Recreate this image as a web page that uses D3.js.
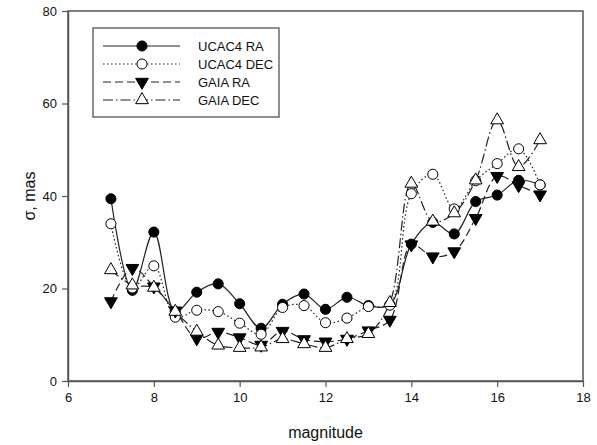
<!DOCTYPE html>
<html>
<head>
<meta charset="utf-8">
<script src="https://cdn.jsdelivr.net/npm/d3@7"></script>
<style>
  body { margin: 0; background: #fff; }
  svg text { font-family: "Liberation Sans", Arial, sans-serif; fill: #111; }
</style>
</head>
<body>
<svg id="chart" width="597" height="445"></svg>
<script>
const mags = [7, 7.5, 8, 8.5, 9, 9.5, 10, 10.5, 11, 11.5, 12, 12.5, 13, 13.5, 14, 14.5, 15, 15.5, 16, 16.5, 17];
const ucacRA = [39.4, 19.6, 32.2, 15.0, 19.2, 21.0, 16.7, 11.4, 16.6, 18.8, 15.5, 18.1, 16.3, 16.5, 29.6, 34.3, 31.8, 38.8, 40.2, 43.4, 42.4];
const ucacDEC = [34.0, 20.1, 24.9, 13.8, 15.3, 15.0, 12.5, 10.1, 15.9, 16.3, 12.6, 13.6, 16.1, 16.4, 40.5, 44.7, 37.2, 43.3, 47.0, 50.2, 42.4];
const gaiaRA = [17.2, 24.4, 20.4, 15.2, 9.2, 10.6, 9.4, 7.8, 10.8, 9.0, 8.5, 9.1, 10.9, 13.2, 29.5, 26.9, 28.0, 35.2, 44.3, 42.3, 40.3];
const gaiaDEC = [24.0, 20.7, 20.2, 15.0, 10.7, 7.7, 7.2, 7.3, 9.1, 8.0, 7.2, 9.1, 10.2, 16.9, 42.7, 34.5, 36.3, 43.4, 56.4, 46.3, 52.1];
const seriesNames = ["UCAC4 RA", "UCAC4 DEC", "GAIA RA", "GAIA DEC"];
const xTicks = [6, 8, 10, 12, 14, 16, 18];
const yTicks = [0, 20, 40, 60, 80];

const styles = [
    { vals: ucacRA, dash: null, sym: d3.symbolCircle, size: 80, fill: "#000" },
    { vals: ucacDEC, dash: "1.5,2.5", sym: d3.symbolCircle, size: 80, fill: "#fff" },
    { vals: gaiaRA, dash: "8,4", sym: "down", size: 70, fill: "#000" },
    { vals: gaiaDEC, dash: "10,3,1.5,3", sym: d3.symbolTriangle, size: 70, fill: "#fff" }
];

const svg = d3.select("#chart");
const pLeft = 68, pRight = 583, pTop = 11, pBottom = 381;

const x = d3.scaleLinear().domain([6, 18]).range([pLeft, pRight]);
const y = d3.scaleLinear().domain([0, 80]).range([pBottom, pTop]);

// frame
svg.append("rect")
    .attr("x", pLeft).attr("y", pTop)
    .attr("width", pRight - pLeft).attr("height", pBottom - pTop)
    .attr("fill", "none").attr("stroke", "#555").attr("stroke-width", 1.5);

const xAxis = svg.append("g")
    .attr("transform", `translate(0,${pBottom})`)
    .call(d3.axisBottom(x).tickValues(xTicks).tickSize(6).tickSizeOuter(0).tickPadding(6));
const yAxis = svg.append("g")
    .attr("transform", `translate(${pLeft},0)`)
    .call(d3.axisLeft(y).tickValues(yTicks).tickSize(6).tickSizeOuter(0).tickPadding(5));

[xAxis, yAxis].forEach(g => {
    g.select(".domain").attr("stroke", "#555").attr("stroke-width", 1.5);
    g.selectAll(".tick line").attr("stroke", "#555").attr("stroke-width", 1.2);
    g.selectAll(".tick text").style("font-size", "13px").attr("fill", "#111")
        .style("font-family", "'Liberation Sans', Arial, sans-serif");
});

svg.append("text")
    .attr("x", (pLeft + pRight) / 2).attr("y", 438)
    .attr("text-anchor", "middle")
    .style("font-size", "16px")
    .text("magnitude");

svg.append("text")
    .attr("transform", `translate(35,${(pTop + pBottom) / 2}) rotate(-90)`)
    .attr("text-anchor", "middle")
    .style("font-size", "16px")
    .text("σ, mas");

function symPath(s) {
    if (s.sym === "down") {
        return d3.symbol().type(d3.symbolTriangle).size(s.size)();
    }
    return d3.symbol().type(s.sym).size(s.size)();
}

const line = d3.line()
    .x((d, i) => x(mags[i]))
    .y(d => y(d))
    .curve(d3.curveCatmullRom.alpha(0.5));

styles.forEach(s => {
    svg.append("path")
        .attr("d", line(s.vals))
        .attr("fill", "none")
        .attr("stroke", "#222")
        .attr("stroke-width", 1.2)
        .attr("stroke-dasharray", s.dash);
});

styles.forEach(s => {
    svg.append("g").selectAll("path")
        .data(s.vals)
        .join("path")
        .attr("d", symPath(s))
        .attr("transform", (d, i) => `translate(${x(mags[i])},${y(d)})` + (s.sym === "down" ? " rotate(180)" : ""))
        .attr("fill", s.fill)
        .attr("stroke", "#000")
        .attr("stroke-width", 1);
});

// legend
const leg = svg.append("g");
leg.append("rect")
    .attr("x", 93).attr("y", 28).attr("width", 186).attr("height", 89)
    .attr("fill", "#fff").attr("stroke", "#444").attr("stroke-width", 1.2);

styles.forEach((s, i) => {
    const ly = 46 + i * 18;
    leg.append("line")
        .attr("x1", 103).attr("x2", 180).attr("y1", ly).attr("y2", ly)
        .attr("stroke", "#222").attr("stroke-width", 1.2)
        .attr("stroke-dasharray", s.dash);
    leg.append("path")
        .attr("d", symPath(s))
        .attr("transform", `translate(142,${ly})` + (s.sym === "down" ? " rotate(180)" : ""))
        .attr("fill", s.fill).attr("stroke", "#000");
    leg.append("text")
        .attr("x", 198).attr("y", ly + 5)
        .style("font-size", "13px")
        .text(seriesNames[i]);
});
</script>
</body>
</html>
